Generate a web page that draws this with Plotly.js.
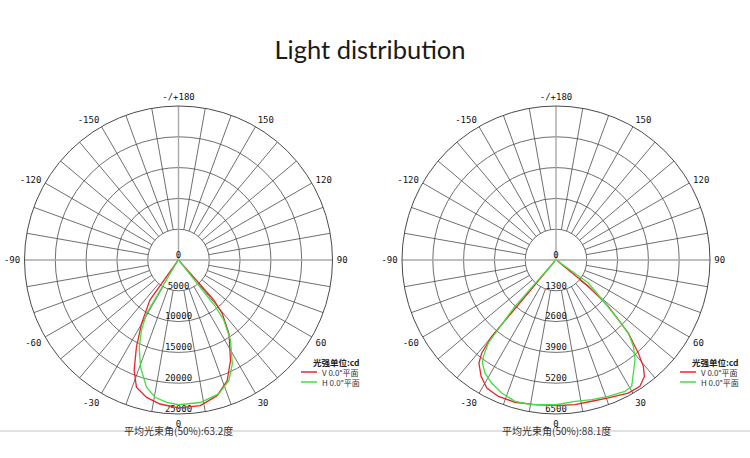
<!DOCTYPE html>
<html>
<head>
<meta charset="utf-8">
<script src="https://cdn.plot.ly/plotly-3.0.1.min.js"></script>
<style>
  html, body { margin: 0; padding: 0; background: #fff; }
  #chart { width: 750px; height: 458px; }
</style>
</head>
<body>
<div id="chart"></div>
<script>
// Angular tick positions (0 points down, counter-clockwise) and their labels
const angleTicks = [0, 30, 60, 90, 120, 150, 180, 210, 240, 270, 300, 330];
const angleTickText = ['0', '30', '60', '90', '120', '150', '-/+180', '-150', '-120', '-90', '-60', '-30'];

// Radial rings (cd) for each luminaire
const ringsA = [0, 5000, 10000, 15000, 20000, 25000];
const ringsB = [0, 1300, 2600, 3900, 5200, 6500];

// Luminaire A — V 0.0° plane
const thetaAV = [-90, -40, -35.5, -30.2, -25.8, -21.9, -18.3, -13.1, -7.3, 0, 8.5, 15.9, 22, 27.4, 34.4, 39.3, 41.4, 44, 90];
const rAV     = [100, 300, 8000, 11900, 15700, 19300, 21750, 22900, 23570, 24000, 23900, 22900, 21100, 18350, 14500, 11200, 8650, 300, 100];
// Luminaire A — H 0.0° plane
const thetaAH = [-90, -40, -30.9, -27.8, -24.3, -19.5, -17.5, -14.1, -9.7, -4.7, 0, 8.7, 16.7, 22.7, 27.4, 33, 37, 38.4, 44, 90];
const rAH     = [100, 300, 10100, 12900, 15500, 18450, 19400, 21300, 22600, 23200, 23500, 23400, 22700, 21200, 19000, 15500, 12200, 9700, 300, 100];

// Luminaire B — V 0.0° plane
const thetaBV = [-90, -45, -40.1, -38.6, -36.8, -32.8, -28.4, -22.9, -16.1, -8.3, 0, 7.5, 14.2, 20.8, 28.5, 33.6, 37.2, 39.4, 41.5, 44.7, 48.5, 50.8, 55, 90];
const rBV     = [50, 100, 4210, 5030, 5430, 5840, 6140, 6250, 6250, 6170, 6150, 6160, 6150, 6230, 6390, 6400, 6170, 5810, 5240, 4340, 2950, 1760, 100, 50];
// Luminaire B — H 0.0° plane
const thetaBH = [-90, -45, -41.5, -39.2, -37, -35.6, -32.1, -27.6, -22.2, -16.2, -9.5, 0, 7.7, 14.3, 21, 27.7, 30.9, 34.4, 38.4, 41.9, 44.7, 46.3, 48.7, 54.6, 58, 90];
const rBH     = [50, 100, 2610, 4520, 5090, 5340, 5640, 5860, 6060, 6210, 6190, 6110, 6020, 6080, 6165, 6260, 6220, 5780, 5370, 4890, 4340, 3640, 2750, 1675, 100, 50];

const seriesNames = ['V 0.0°平面', 'H 0.0°平面'];
const beamAngles = ['平均光束角(50%):63.2度', '平均光束角(50%):88.1度'];
const unitTitle = '光强单位:cd';

const W = 750, H = 458;
const GRID = '#4a4a4a';
const AXIS = '#a8a8a8';
const RED = '#e8262a';
const GREEN = '#3fe03f';
const COLORS = [RED, GREEN];
const MONO = 'DejaVu Sans Mono, Liberation Mono, monospace';
const CJK = 'Noto Sans CJK SC, sans-serif';

// Spokes every 10°, starting at the first ring; the 90/180/270 axes run to the centre
function gridTraces(rings, subplot) {
  const inner = rings[1], outer = rings[rings.length - 1];
  const r = [], th = [];
  for (let a = 0; a < 360; a += 10) {
    if (a === 0 || a === 90 || a === 180 || a === 270) continue;
    r.push(inner, outer, null); th.push(a, a, null);
  }
  const spokes = { type: 'scatterpolar', mode: 'lines', r, theta: th, subplot,
    line: { color: GRID, width: 0.8 }, hoverinfo: 'skip', showlegend: false };
  const axes = { type: 'scatterpolar', mode: 'lines', subplot,
    r: [outer, 0, outer, null, 0, outer], theta: [90, 90, 270, null, 180, 180],
    line: { color: AXIS, width: 1.4 }, hoverinfo: 'skip', showlegend: false };
  const labels = { type: 'scatterpolar', mode: 'text', subplot,
    r: rings, theta: rings.map(() => 0), text: rings.map(String),
    textposition: 'top center', textfont: { family: MONO, size: 9, color: '#111' },
    hoverinfo: 'skip', showlegend: false };
  return [spokes, axes, labels];
}

function curve(theta, r, name, color, subplot) {
  return { type: 'scatterpolar', mode: 'lines', theta, r, name, subplot,
    line: { color, width: 1.3 }, showlegend: false };
}

const data = [
  ...gridTraces(ringsA, 'polar'),
  curve(thetaAV, rAV, seriesNames[0], RED, 'polar'),
  curve(thetaAH, rAH, seriesNames[1], GREEN, 'polar'),
  ...gridTraces(ringsB, 'polar2'),
  curve(thetaBV, rBV, seriesNames[0], RED, 'polar2'),
  curve(thetaBH, rBH, seriesNames[1], GREEN, 'polar2')
];

function polarLayout(xDom, rings) {
  return {
    domain: { x: xDom, y: [44 / H, 352 / H] },
    bgcolor: 'rgba(0,0,0,0)',
    radialaxis: { range: [0, rings[rings.length - 1]], tickvals: rings.slice(1, -1),
      showticklabels: false, ticks: '', showline: false, gridcolor: GRID, gridwidth: 0.8 },
    angularaxis: { rotation: 270, direction: 'counterclockwise', tickmode: 'array',
      tickvals: angleTicks, ticktext: angleTickText, showgrid: false,
      ticks: 'outside', ticklen: 2, tickcolor: 'rgba(0,0,0,0)',
      showline: true, linecolor: GRID, linewidth: 1,
      tickfont: { family: MONO, size: 9, color: '#111' } }
  };
}

// Compact key (unit caption + one short line sample per plane) beside each diagram
function keyItems(x0) {
  const shapes = [], annotations = [];
  annotations.push({ text: '<b>' + unitTitle + '</b>', xref: 'paper', yref: 'paper',
    x: (x0 + 10) / W, y: (H - 362) / H, xanchor: 'left', yanchor: 'middle', showarrow: false,
    font: { family: CJK, size: 8.5, color: '#222' } });
  seriesNames.forEach((name, i) => {
    const y = 372 + i * 10;
    shapes.push({ type: 'line', xref: 'paper', yref: 'paper', x0: x0 / W, x1: (x0 + 16) / W,
      y0: (H - y) / H, y1: (H - y) / H, line: { color: COLORS[i], width: 1.5 } });
    annotations.push({ text: name, xref: 'paper', yref: 'paper', x: (x0 + 19) / W, y: (H - y) / H,
      xanchor: 'left', yanchor: 'middle', showarrow: false,
      font: { family: CJK, size: 8, color: '#333' } });
  });
  return { shapes, annotations };
}

const keyA = keyItems(301);
const keyB = keyItems(680);

const layout = {
  width: W, height: H,
  margin: { l: 0, r: 0, t: 0, b: 0 },
  paper_bgcolor: '#fff',
  showlegend: false,
  title: { text: 'Light distribution', x: 370 / W, xanchor: 'center', y: 1 - 50 / H, yanchor: 'middle',
    font: { family: 'Lato, sans-serif', size: 25.5, color: '#1a1a1a' } },
  polar: polarLayout([24.5 / W, 332.5 / W], ringsA),
  polar2: polarLayout([402 / W, 710 / W], ringsB),
  shapes: [
    { type: 'line', xref: 'paper', yref: 'paper', x0: 0, x1: 1, y0: 27 / H, y1: 27 / H,
      line: { color: '#c4c4c4', width: 1 } },
    ...keyA.shapes, ...keyB.shapes
  ],
  annotations: [
    { text: beamAngles[0], xref: 'paper', yref: 'paper', x: 178.5 / W, y: 27.5 / H,
      xanchor: 'center', yanchor: 'middle', showarrow: false,
      font: { family: CJK, size: 10, color: '#333' } },
    { text: beamAngles[1], xref: 'paper', yref: 'paper', x: 556 / W, y: 27.5 / H,
      xanchor: 'center', yanchor: 'middle', showarrow: false,
      font: { family: CJK, size: 10, color: '#333' } },
    ...keyA.annotations, ...keyB.annotations
  ]
};

Plotly.newPlot('chart', data, layout, { staticPlot: true, displayModeBar: false });
</script>
</body>
</html>
